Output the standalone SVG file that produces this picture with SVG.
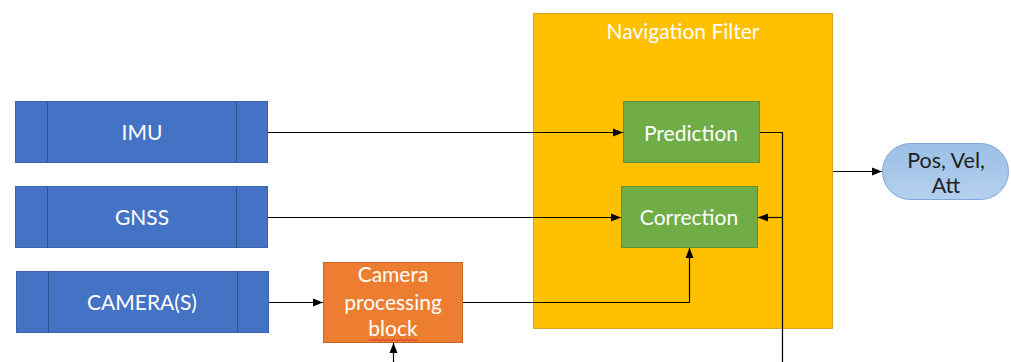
<svg xmlns="http://www.w3.org/2000/svg" width="1011" height="362" viewBox="0 0 1011 362">
  <defs>
    <marker id="arrow" viewBox="0 0 10 10" refX="10" refY="5" markerWidth="10" markerHeight="10" markerUnits="userSpaceOnUse" orient="auto">
      <path d="M0,1 L10,5 L0,9 Z" fill="#000"/>
    </marker>
    <linearGradient id="outGrad" x1="0" y1="0" x2="0" y2="1">
      <stop offset="0" stop-color="#9BBFE6"/>
      <stop offset="1" stop-color="#B4D0EE"/>
    </linearGradient>
  </defs>
  <style>
    text { font-family: Lato, "Open Sans", "Liberation Sans", sans-serif; text-anchor: middle; }
    .lbl { fill: #ffffff; font-size: 21px; }
    .sensor { fill: #4472C4; stroke: #3A63AD; stroke-width: 1; }
    .divider { stroke: #2F528F; stroke-width: 1; }
    .proc { fill: #ED7D31; stroke: #C9651F; stroke-width: 1; }
    .filter { fill: #FFC000; stroke: #D9A520; stroke-width: 1; }
    .stage { fill: #70AD47; stroke: #5B9238; stroke-width: 1; }
    .out { fill: url(#outGrad); stroke: #7EA6D8; stroke-width: 1; }
    .wire { fill: none; stroke: #000; stroke-width: 1.2; }
  </style>

  <rect width="1011" height="362" fill="#ffffff"/>

  <!-- Navigation filter container -->
  <g id="navigation-filter">
    <rect class="filter" x="533.5" y="13.5" width="299" height="315"/>
    <text class="lbl" x="683" y="39" font-size="19">Navigation Filter</text>
  </g>

  <!-- Sensor sources -->
  <g id="imu">
    <rect class="sensor" x="15.5" y="101.5" width="252" height="61"/>
    <line class="divider" x1="47.5" y1="101.5" x2="47.5" y2="162.5"/>
    <line class="divider" x1="236.5" y1="101.5" x2="236.5" y2="162.5"/>
    <text class="lbl" x="142" y="140">IMU</text>
  </g>
  <g id="gnss">
    <rect class="sensor" x="15.5" y="186.5" width="252" height="61"/>
    <line class="divider" x1="47.5" y1="186.5" x2="47.5" y2="247.5"/>
    <line class="divider" x1="236.5" y1="186.5" x2="236.5" y2="247.5"/>
    <text class="lbl" x="142" y="225">GNSS</text>
  </g>
  <g id="cameras">
    <rect class="sensor" x="16.5" y="271.5" width="252" height="61"/>
    <line class="divider" x1="48.5" y1="271.5" x2="48.5" y2="332.5"/>
    <line class="divider" x1="237.5" y1="271.5" x2="237.5" y2="332.5"/>
    <text class="lbl" x="142" y="310">CAMERA(S)</text>
  </g>

  <!-- Camera processing -->
  <g id="camera-processing">
    <rect class="proc" x="323.5" y="262.5" width="139" height="80"/>
    <text class="lbl" x="393" y="282">Camera</text>
    <text class="lbl" x="393" y="310">processing</text>
    <text class="lbl" x="393" y="336">block</text>
    <path d="M369,340 q1.5,-1.5 3,0 t3,0 t3,0 t3,0 t3,0 t3,0 t3,0 t3,0 t3,0 t3,0 t3,0 t3,0 t3,0 t3,0 t3,0 t3,0" fill="none" stroke="#E0303A" stroke-width="1"/>
  </g>

  <!-- Filter stages -->
  <g id="prediction">
    <rect class="stage" x="623.5" y="101.5" width="136" height="61"/>
    <text class="lbl" x="691" y="141">Prediction</text>
  </g>
  <g id="correction">
    <rect class="stage" x="621.5" y="186.5" width="136" height="61"/>
    <text class="lbl" x="689" y="225">Correction</text>
  </g>

  <!-- Output -->
  <g id="output">
    <rect class="out" x="882.5" y="143.5" width="126" height="56" rx="28" ry="28"/>
    <text x="946" y="168" font-size="21.5" fill="#1F1F1F">Pos, Vel,</text>
    <text x="946" y="193" font-size="21.5" fill="#1F1F1F">Att</text>
  </g>

  <!-- Connectors -->
  <g id="connectors">
    <path class="wire" d="M268,132.5 H623" marker-end="url(#arrow)"/>
    <path class="wire" d="M268,217.5 H621" marker-end="url(#arrow)"/>
    <path class="wire" d="M269,302.5 H323" marker-end="url(#arrow)"/>
    <path class="wire" d="M463,302.5 H689.5 V248" marker-end="url(#arrow)"/>
    <path class="wire" d="M760,132.5 H782.5 V362"/>
    <path class="wire" d="M782.5,217.5 H758" marker-end="url(#arrow)"/>
    <path class="wire" d="M393.5,362 V343" marker-end="url(#arrow)"/>
    <path class="wire" d="M833,171.5 H882" marker-end="url(#arrow)"/>
  </g>
</svg>
